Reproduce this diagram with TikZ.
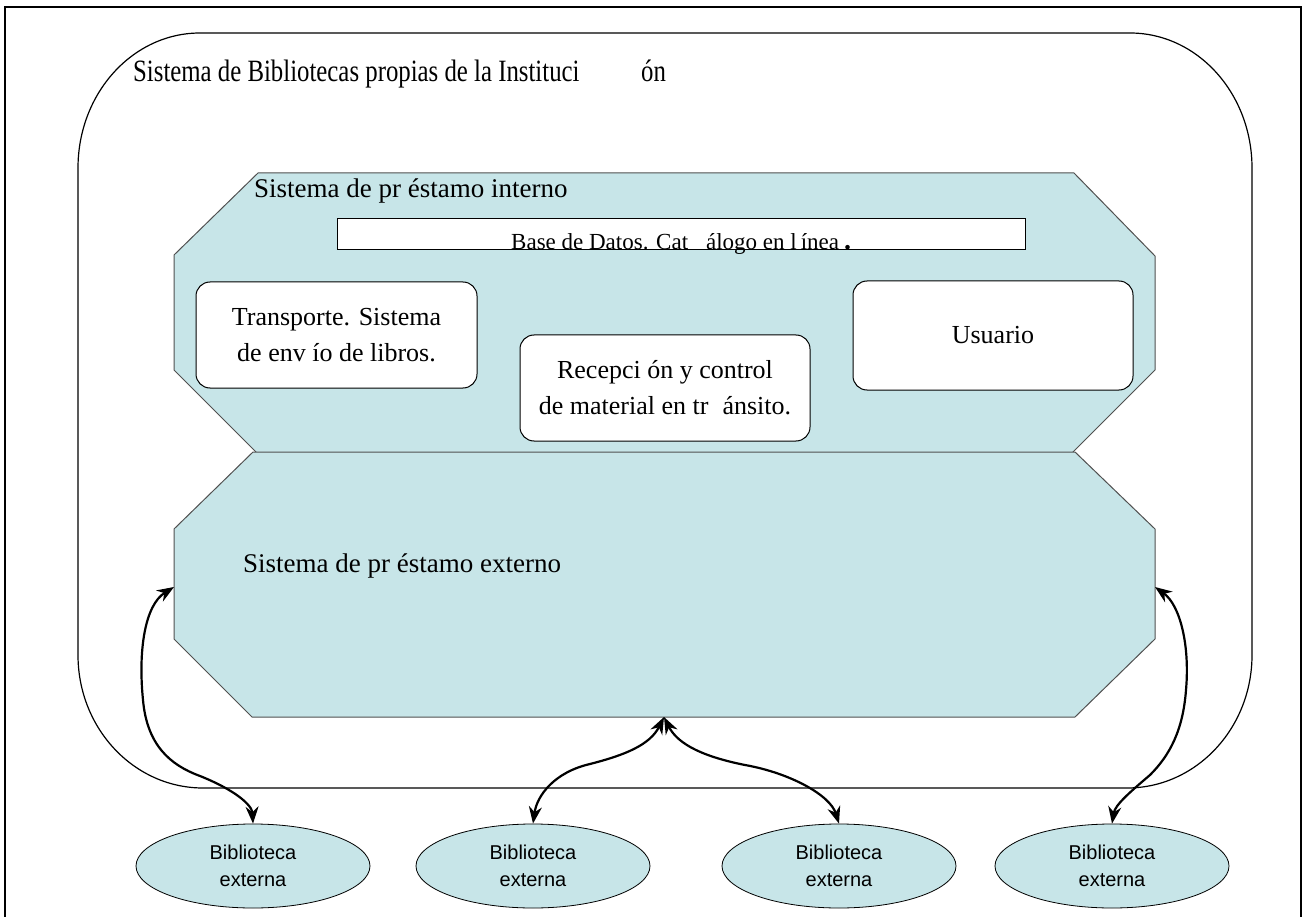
\documentclass[tikz,border=0pt]{standalone}
\usepackage{fontspec}
\setmainfont{Liberation Serif}
\newfontfamily\arialfont{Liberation Sans}
\usetikzlibrary{arrows.meta,shapes.geometric}
\definecolor{panelblue}{RGB}{199,229,232}
\definecolor{edgegray}{RGB}{80,80,80}
\tikzset{
  panel/.style={fill=panelblue, draw=edgegray, line width=1pt},
  whitebox/.style={draw=black, fill=white, line width=1pt, rounded corners=14pt, inner sep=0pt, align=center, font=\fontsize{26}{36}\selectfont},
  extlib/.style={ellipse, draw=black, fill=panelblue, line width=0.8pt, minimum width=234pt, minimum height=84pt, inner sep=0pt, align=center, font=\arialfont\fontsize{20}{27}\selectfont},
  link/.style={line width=2.2pt, black, {Stealth[length=17pt,width=13pt]}-{Stealth[length=17pt,width=13pt]}},
  label/.style={anchor=base west, inner sep=0pt},
}
\begin{document}
\begin{tikzpicture}[x=1pt,y=-1pt]
\useasboundingbox (0,0) rectangle (1304,917);
% page frame
\draw[line width=2pt] (5,917) -- (5,7) -- (1301,7) -- (1301,917);
% outer rounded system boundary
\draw[line width=1.2pt] (78,168) .. controls (78,93.4) and (132.6,33) .. (200,33)
  -- (1130,33) .. controls (1197.4,33) and (1252,93.4) .. (1252,168)
  -- (1252,655) .. controls (1252,728.5) and (1196,788) .. (1127,788)
  -- (203,788) .. controls (134,788) and (78,728.5) .. (78,655) -- cycle;
\node[label] (title) at (133,82) {\scalebox{0.80}[1]{\fontsize{31}{34}\selectfont Sistema de Bibliotecas propias de la Instituci\hspace{77pt}ón}};
% internal loan panel
\draw[panel] (258,173) -- (1074,173) -- (1155,256) -- (1155,370) -- (1072,453) -- (257,453) -- (174,370) -- (174,255) -- cycle;
% external loan panel
\draw[panel] (253,452) -- (1075,452) -- (1155,529) -- (1155,639) -- (1075,717) -- (252,717) -- (174,639) -- (174,529) -- cycle;
\node[label] (intTitle) at (254,198) {\fontsize{27}{30}\selectfont Sistema de pr éstamo interno};
\node[label] (extTitle) at (243,572) {\fontsize{27}{30}\selectfont Sistema de pr éstamo externo};
% database bar
\node[draw=black, fill=white, line width=1pt, minimum width=688pt, minimum height=31pt, inner sep=0pt] (db) at (681,234.5) {};
\node[label] (dbText) at (511,250) {\fontsize{23}{26}\selectfont Base de Datos. Cat\hspace{18pt}álogo en l\hspace{4pt}ínea\hspace{5pt}{\fontsize{28}{28}\selectfont\textbf{.}}};
% white boxes
\node[whitebox, minimum width=281pt, minimum height=106pt] (trans) at (336.5,335) {Transporte. Sistema\\de env ío de libros.};
\node[whitebox, minimum width=290pt, minimum height=106pt] (recep) at (665,388) {Recepci ón y control\\de material en tr\hspace{14pt}ánsito.};
\node[whitebox, minimum width=280pt, minimum height=109pt] (user) at (993,335.5) {Usuario};
% external libraries
\node[extlib] (e1) at (253,866) {Biblioteca\\externa};
\node[extlib] (e2) at (533,866) {Biblioteca\\externa};
\node[extlib] (e3) at (839,866) {Biblioteca\\externa};
\node[extlib] (e4) at (1112,866) {Biblioteca\\externa};
% attachment points on the external panel
\coordinate (extL) at (174,587);
\coordinate (extR) at (1155,587);
\coordinate (extB) at (664,717);
% connectors
\draw[link] (extL) .. controls (145,605) and (138,650) .. (143,700)
  .. controls (147,745) and (170,765) .. (200,776)
  .. controls (235,790) and (252,805) .. (e1.north);
\draw[link] (extB) .. controls (650,745) and (625,755) .. (590,764)
  .. controls (555,772) and (537,795) .. (e2.north);
\draw[link] (extB) .. controls (678,745) and (705,757) .. (745,765)
  .. controls (790,773) and (830,795) .. (e3.north);
\draw[link] (extR) .. controls (1180,605) and (1190,645) .. (1186,690)
  .. controls (1183,730) and (1170,755) .. (1150,775)
  .. controls (1130,792) and (1115,805) .. (e4.north);
\end{tikzpicture}
\end{document}
